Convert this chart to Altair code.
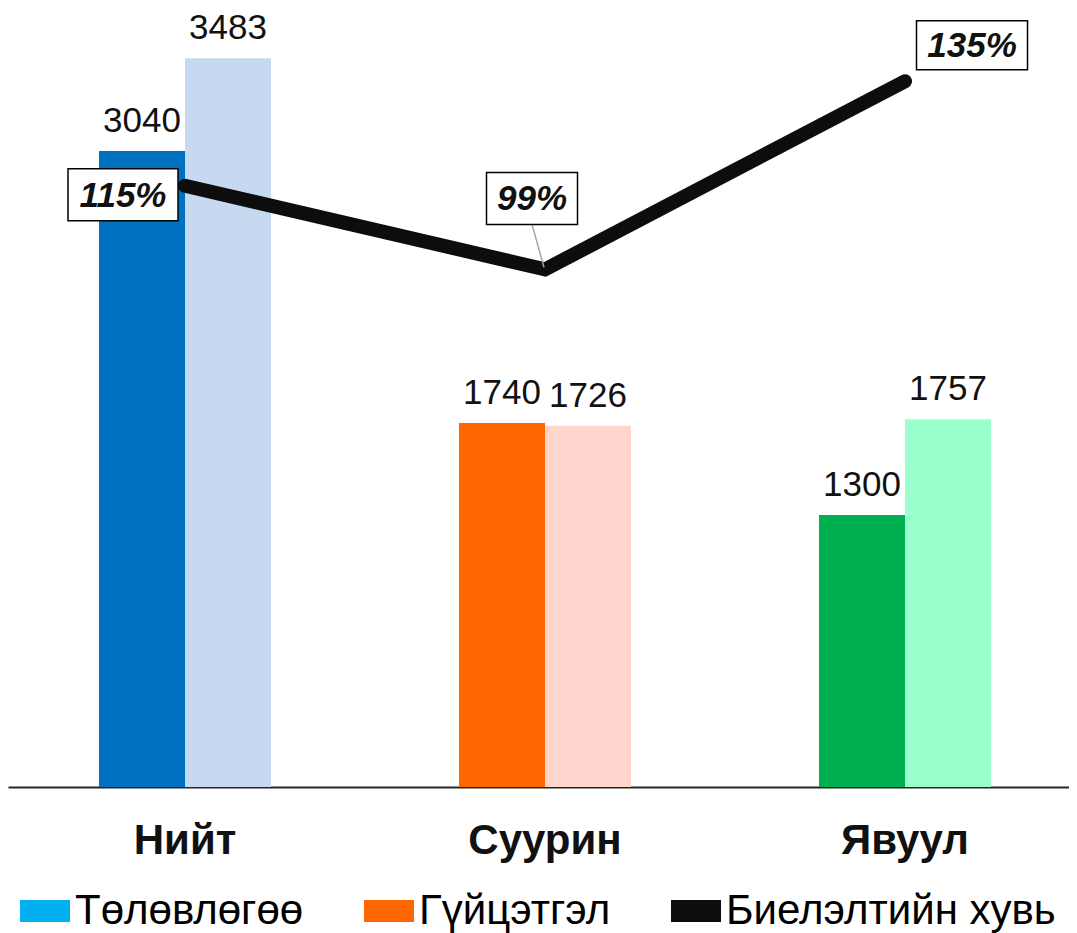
import altair as alt
import pandas as pd

groups = ["Нийт", "Суурин", "Явуул"]
plan = [3040, 1740, 1300]
actual = [3483, 1726, 1757]
pct = [115, 99, 135]
pct_labels = ["115%", "99%", "135%"]
series = ["Төлөвлөгөө", "Гүйцэтгэл", "Биелэлтийн хувь"]
plan_colors = ["#0070C0", "#FF6600", "#00B050"]
actual_colors = ["#C6D9F1", "#FFD5CC", "#99FFCC"]
legend_colors = ["#00B0F0", "#FF6600", "#0D0D0D"]

rows = []
for g, p, a, cp, ca in zip(groups, plan, actual, plan_colors, actual_colors):
    rows.append({"group": g, "kind": "plan", "value": p, "color": cp})
    rows.append({"group": g, "kind": "actual", "value": a, "color": ca})
bars_df = pd.DataFrame(rows)
line_df = pd.DataFrame({"group": groups, "pct": pct, "label": pct_labels})
legend_df = pd.DataFrame({"s": series})

FONT = "Liberation Sans"


def xenc():
    return alt.X("group:N", sort=groups, title=None,
                 scale=alt.Scale(domain=groups, paddingInner=0.5222,
                                 paddingOuter=0.2347, align=0.5385))


xoff = alt.XOffset("kind:N", sort=["plan", "actual"],
                   scale=alt.Scale(domain=["plan", "actual"]))
ybar = alt.Y("value:Q", axis=None, title=None,
             scale=alt.Scale(domain=[0, 3723], nice=False, zero=True))


def ypct():
    return alt.Y("pct:Q", axis=None, title=None,
                 scale=alt.Scale(domain=[0, 149], nice=False, zero=True))


bars = alt.Chart(bars_df).mark_bar().encode(
    x=xenc(), xOffset=xoff, y=ybar,
    color=alt.Color("color:N", scale=None, legend=None))

bar_text = alt.Chart(bars_df).mark_text(
    baseline="alphabetic", dy=-19, fontSize=35, color="#111111", font=FONT
).encode(x=xenc(), xOffset=xoff, y=ybar, text=alt.Text("value:Q"))

line = alt.Chart(line_df).mark_line(
    color="#0D0D0D", strokeWidth=14, strokeCap="round", strokeJoin="miter"
).encode(x=xenc(), y=ypct())

leader = alt.Chart(line_df).transform_filter(alt.datum.group == "Суурин").mark_rule(
    color="#A6A6A6", strokeWidth=1.5, xOffset=-1, yOffset=-2, x2Offset=-13, y2Offset=-45
).encode(x=xenc(), x2=alt.X2("group:N"), y=ypct(), y2=alt.Y2("pct:Q"))

# box width, box height, x offset, y offset from the point
box_style = {
    "Нийт": (110, 52, -62, 9),
    "Суурин": (91, 52, -13, -71),
    "Явуул": (111, 49, 67, -36),
}

box_layers = []
for g in groups:
    w, h, dx, dy = box_style[g]
    r = h / w
    path = f"M-1,-{r:.4f}H1V{r:.4f}H-1Z"
    base = alt.Chart(line_df).transform_filter(alt.datum.group == g)
    box = base.mark_point(
        shape=path, size=w * w, filled=True, fill="white", stroke="#000000",
        strokeWidth=1.5, opacity=1, strokeOpacity=1, xOffset=dx, yOffset=dy
    ).encode(x=xenc(), y=ypct())
    txt = base.mark_text(
        fontSize=35, fontWeight="bold", fontStyle="italic", font=FONT,
        color="#111111", baseline="middle", dx=dx, dy=dy + 1
    ).encode(x=xenc(), y=ypct(), text="label:N")
    box_layers += [box, txt]

rect_path = "M-1,-0.44H1V0.44H-1Z"

legend_layer = alt.Chart(legend_df).mark_point(
    filled=True, clip=True, shape=rect_path
).encode(
    x=alt.value(-1000), y=alt.value(-1000),
    color=alt.Color("s:N", sort=series,
                    scale=alt.Scale(domain=series, range=legend_colors),
                    legend=alt.Legend(
                        title=None, orient="none", legendX=12, legendY=878,
                        direction="horizontal", columns=3, symbolSize=2500,
                        symbolType=rect_path,
                        labelFontSize=42, labelFont=FONT, labelColor="#000000",
                        labelOffset=5, columnPadding=60, symbolStrokeWidth=0,
                        symbolOpacity=1, padding=0, labelLimit=400)),
)

chart = alt.layer(
    bars, bar_text, line, leader, *box_layers, legend_layer
).resolve_scale(
    y="independent", color="independent"
).properties(
    width=1061, height=779,
    autosize=alt.AutoSizeParams(type="none"),
    padding={"left": 0, "top": 0, "right": 0, "bottom": 146},
).configure(
    font=FONT
).configure_view(
    stroke=None
).configure_axisX(
    labelFontSize=42, labelFontWeight="bold", labelColor="#111111",
    labelFont=FONT, labelAngle=0, labelPadding=33, ticks=False, grid=False,
    domainColor="#262626", domainWidth=2,
)

chart.save("out.html", embed_options={"renderer": "svg", "actions": False})
